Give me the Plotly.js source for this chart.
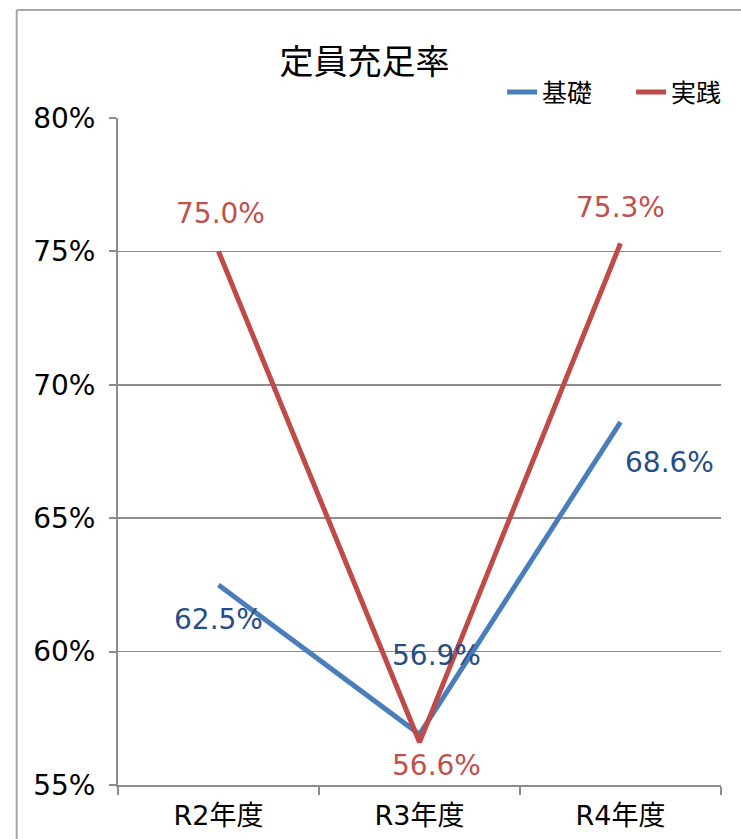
<!DOCTYPE html>
<html>
<head>
<meta charset="utf-8">
<script src="https://cdn.plot.ly/plotly-3.0.1.min.js"></script>
<style>
html,body{margin:0;padding:0;background:#fff;}
#chart{width:741px;height:839px;}
</style>
</head>
<body>
<div id="chart"></div>
<script>
var categories = ['R2年度', 'R3年度', 'R4年度'];
var seriesNames = ['基礎', '実践'];
var kiso = [62.5, 56.9, 68.6];
var jissen = [75.0, 56.6, 75.3];
var yTicks = [55, 60, 65, 70, 75, 80];
var yTickText = yTicks.map(function (v) { return v + '%'; });

var FONT = '"DejaVu Sans", "Noto Sans CJK JP", sans-serif';
var blue = '#4a7ebb', red = '#be4b48';
var blueLbl = '#254e86', redLbl = '#c0504d';

var traces = [
  {x: categories, y: kiso, name: seriesNames[0], type: 'scatter', mode: 'lines',
   line: {color: blue, width: 5}},
  {x: categories, y: jissen, name: seriesNames[1], type: 'scatter', mode: 'lines',
   line: {color: red, width: 5}}
];

// label pixel offsets (style only)
var kisoOff = [[0, -35], [17, 79], [49, -40]];
var jissenOff = [[2, 38], [17, -23], [0, 36]];

var annotations = [];
function addLabels(vals, offs, color) {
  vals.forEach(function (v, i) {
    annotations.push({
      x: categories[i], y: v, xref: 'x', yref: 'y',
      text: v.toFixed(1) + '%', showarrow: false,
      xshift: offs[i][0], yshift: offs[i][1],
      font: {family: FONT, size: 28, color: color}
    });
  });
}
addLabels(kiso, kisoOff, blueLbl);
addLabels(jissen, jissenOff, redLbl);

var layout = {
  width: 741, height: 839,
  margin: {l: 118, r: 20, t: 118, b: 54, autoexpand: false},
  paper_bgcolor: '#fff', plot_bgcolor: '#fff',
  title: {text: '定員充足率', font: {family: FONT, size: 34, color: '#000'},
          x: 0.492, xanchor: 'center', y: 0.926, yanchor: 'middle'},
  showlegend: true,
  legend: {orientation: 'h', x: 0.637, xanchor: 'left', y: 1.004, yanchor: 'bottom',
           font: {family: FONT, size: 25, color: '#000'}, bgcolor: 'rgba(0,0,0,0)',
           itemwidth: 30, tracegroupgap: 0, entrywidth: 84, entrywidthmode: 'pixels'},
  xaxis: {
    type: 'category', range: [-0.5, 2.5], automargin: false,
    showline: true, linecolor: '#8c8c8c', linewidth: 2,
    ticks: 'outside', tickson: 'boundaries', ticklen: 8, tickcolor: '#8c8c8c', tickwidth: 2,
    showgrid: false, zeroline: false, ticklabelstandoff: 6,
    tickfont: {family: FONT, size: 27, color: '#000'}
  },
  yaxis: {
    range: [55, 80], tickvals: yTicks, ticktext: yTickText, automargin: false,
    showline: true, linecolor: '#8c8c8c', linewidth: 2,
    ticks: 'outside', ticklen: 7, tickcolor: '#8c8c8c', tickwidth: 2,
    showgrid: true, gridcolor: '#8c8c8c', gridwidth: 1.5, zeroline: false,
    ticklabelstandoff: 8,
    tickfont: {family: FONT, size: 28, color: '#000'}
  },
  annotations: annotations,
  shapes: [
    {type: 'line', xref: 'paper', yref: 'paper', x0: -0.168, x1: -0.168, y0: 1.162, y1: -0.1,
     line: {color: '#a6a6a6', width: 2}},
    {type: 'line', xref: 'paper', yref: 'paper', x0: -0.168, x1: 1.05, y0: 1.162, y1: 1.162,
     line: {color: '#a6a6a6', width: 2}}
  ]
};

Plotly.newPlot('chart', traces, layout, {displayModeBar: false, staticPlot: true});
</script>
</body>
</html>
